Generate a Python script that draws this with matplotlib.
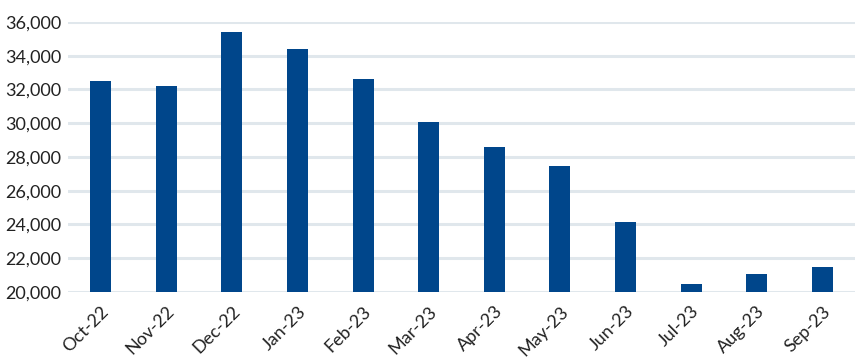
import matplotlib
matplotlib.use("Agg")
import matplotlib.pyplot as plt
from matplotlib.ticker import FuncFormatter

months = ["Oct-22", "Nov-22", "Dec-22", "Jan-23", "Feb-23", "Mar-23",
          "Apr-23", "May-23", "Jun-23", "Jul-23", "Aug-23", "Sep-23"]
values = [32500, 32200, 35400, 34400, 32600, 30070,
          28600, 27470, 24150, 20470, 21070, 21480]
yticks = [20000, 22000, 24000, 26000, 28000, 30000, 32000, 34000, 36000]

plt.rcParams['font.family'] = ['Lato', 'DejaVu Sans']

fig = plt.figure(figsize=(8.55, 3.6), dpi=100)
ax = fig.add_axes([0.0795, 0.189, 0.9205, 0.75])

x = range(len(months))
ax.bar(x, values, width=0.32, color="#00468b", zorder=3)

ax.set_ylim(20000, 36000)
ax.set_xlim(-0.5, len(months) - 0.5)
ax.set_yticks(yticks)
ax.yaxis.set_major_formatter(FuncFormatter(lambda v, p: f"{int(v):,}"))
ax.set_xticks(list(x))
ax.set_xticklabels(months, rotation=45, ha="right", rotation_mode="anchor")

ax.grid(axis="y", color="#e0e7ec", linewidth=2.2, zorder=0)
for s in ax.spines.values():
    s.set_visible(False)
ax.tick_params(axis="both", length=0, labelsize=13, colors="#222222")
ax.tick_params(axis="y", pad=5)
ax.tick_params(axis="x", pad=8)

fig.savefig("out.png", dpi=100)
